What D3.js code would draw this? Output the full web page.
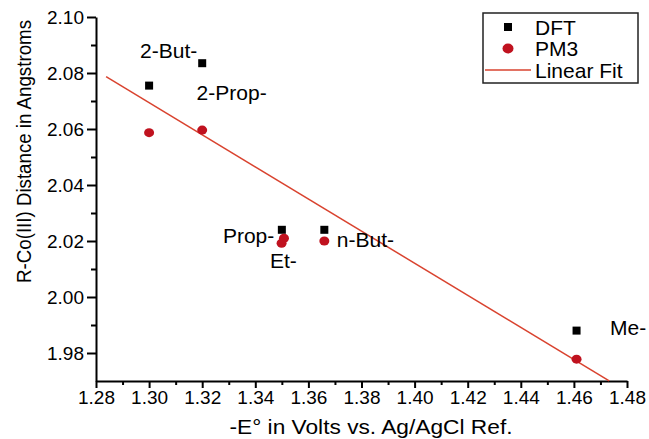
<!DOCTYPE html>
<html>
<head>
<meta charset="utf-8">
<script src="https://cdn.jsdelivr.net/npm/d3@7"></script>
<style>
  body { margin: 0; background: #fff; }
  svg { font-family: "Liberation Sans", Arial, sans-serif; }
</style>
</head>
<body>
<svg id="chart"></svg>
<script>
const width = 649;
const height = 439;

// DFT and PM3 results: -E (V) vs R-Co(III) distance (Å)
const dftX = [1.300, 1.320, 1.350, 1.366, 1.461];
const dftY = [2.0755, 2.0835, 2.024, 2.024, 1.988];
const pm3X = [1.300, 1.320, 1.3508, 1.3499, 1.366, 1.461];
const pm3Y = [2.0587, 2.0596, 2.021, 2.0192, 2.020, 1.9778];

// linear fit y = a + b*x
const fitIntercept = 2.8151;
const fitSlope = -0.5736;
const fitRange = [1.2838, 1.4733];

const pointLabels = ['2-But-', '2-Prop-', 'Prop-', 'Et-', 'n-But-', 'Me-'];
const labelX = [1.2966, 1.3179, 1.3278, 1.3455, 1.3707, 1.4736];
const labelY = [2.0854, 2.0705, 2.0193, 2.0104, 2.0180, 1.9865];

const xTicks = [1.28, 1.30, 1.32, 1.34, 1.36, 1.38, 1.40, 1.42, 1.44, 1.46, 1.48];
const yTicks = [1.98, 2.00, 2.02, 2.04, 2.06, 2.08, 2.10];
const legendNames = ['DFT', 'PM3', 'Linear Fit'];

const margin = { left: 96, right: 22, top: 17, bottom: 58 };

const svg = d3.select('#chart')
  .attr('width', width)
  .attr('height', height);

const x = d3.scaleLinear()
  .domain([1.28, 1.48])
  .range([margin.left, width - margin.right]);

const y = d3.scaleLinear()
  .domain([1.97, 2.10])
  .range([height - margin.bottom, margin.top]);

// minor ticks
const xMinor = d3.range(1.29, 1.48, 0.02);
const yMinor = d3.range(1.99, 2.10, 0.02);

svg.append('g')
  .attr('transform', `translate(0,${y(1.97)})`)
  .call(d3.axisBottom(x).tickValues(xMinor).tickSize(4).tickFormat(''))
  .call(g => g.select('.domain').remove())
  .selectAll('line').attr('stroke-width', 2);

svg.append('g')
  .attr('transform', `translate(${x(1.28)},0)`)
  .call(d3.axisLeft(y).tickValues(yMinor).tickSize(5).tickFormat(''))
  .call(g => g.select('.domain').remove())
  .selectAll('line').attr('stroke-width', 2);

const xAxis = svg.append('g')
  .attr('transform', `translate(0,${y(1.97)})`)
  .call(d3.axisBottom(x).tickValues(xTicks).tickSize(7).tickPadding(3).tickFormat(d3.format('.2f')).tickSizeOuter(0));

const yAxis = svg.append('g')
  .attr('transform', `translate(${x(1.28)},0)`)
  .call(d3.axisLeft(y).tickValues(yTicks).tickSize(9).tickPadding(3).tickFormat(d3.format('.2f')).tickSizeOuter(0));

[xAxis, yAxis].forEach(g => {
  g.select('.domain').attr('stroke-width', 2);
  g.selectAll('line').attr('stroke-width', 2);
  g.selectAll('text')
    .attr('font-size', 19)
    .attr('font-family', '"Liberation Sans", Arial, sans-serif')
    .attr('fill', '#000');
});

// axis titles
svg.append('text')
  .attr('x', 371)
  .attr('y', 434)
  .attr('text-anchor', 'middle')
  .attr('font-size', 21)
  .attr('textLength', 283)
  .attr('lengthAdjust', 'spacingAndGlyphs')
  .attr('fill', '#000')
  .text('-E° in Volts vs. Ag/AgCl Ref.');

svg.append('text')
  .attr('transform', 'translate(31,151.5) rotate(-90)')
  .attr('text-anchor', 'middle')
  .attr('font-size', 20)
  .attr('textLength', 263)
  .attr('lengthAdjust', 'spacingAndGlyphs')
  .attr('fill', '#000')
  .text('R-Co(III) Distance in Angstroms');

// linear fit
svg.append('line')
  .attr('x1', x(fitRange[0]))
  .attr('y1', y(fitIntercept + fitSlope * fitRange[0]))
  .attr('x2', x(fitRange[1]))
  .attr('y2', y(fitIntercept + fitSlope * fitRange[1]))
  .attr('stroke', '#d9432f')
  .attr('stroke-width', 1.5);

// DFT squares
svg.selectAll('.dft')
  .data(dftX)
  .enter()
  .append('rect')
  .attr('class', 'dft')
  .attr('x', d => x(d) - 4)
  .attr('y', (d, i) => y(dftY[i]) - 4)
  .attr('width', 8)
  .attr('height', 8)
  .attr('fill', '#000');

// PM3 circles
svg.selectAll('.pm3')
  .data(pm3X)
  .enter()
  .append('ellipse')
  .attr('class', 'pm3')
  .attr('cx', d => x(d))
  .attr('cy', (d, i) => y(pm3Y[i]))
  .attr('rx', 5)
  .attr('ry', 4.5)
  .attr('fill', '#c0121f');

// point labels
svg.selectAll('.plabel')
  .data(pointLabels)
  .enter()
  .append('text')
  .attr('class', 'plabel')
  .attr('x', (d, i) => x(labelX[i]))
  .attr('y', (d, i) => y(labelY[i]))
  .attr('font-size', 21)
  .attr('fill', '#000')
  .text(d => d);

// legend
const legend = svg.append('g').attr('transform', 'translate(483,13)');

legend.append('rect')
  .attr('width', 155)
  .attr('height', 70)
  .attr('fill', '#fff')
  .attr('stroke', '#222')
  .attr('stroke-width', 1.5);

const item = legend.selectAll('.item')
  .data(legendNames)
  .enter()
  .append('g')
  .attr('class', 'item')
  .attr('transform', (d, i) => `translate(0,${14 + i * 21.5})`);

item.append('text')
  .attr('x', 52)
  .attr('y', 7.5)
  .attr('font-size', 21)
  .attr('fill', '#000')
  .text(d => d);

item.filter((d, i) => i === 0).append('rect')
  .attr('x', 21).attr('y', -4).attr('width', 8).attr('height', 8).attr('fill', '#000');

item.filter((d, i) => i === 1).append('ellipse')
  .attr('cx', 25).attr('cy', 0).attr('rx', 5.5).attr('ry', 5).attr('fill', '#c0121f');

item.filter((d, i) => i === 2).append('line')
  .attr('x1', 2).attr('x2', 48).attr('y1', 0).attr('y2', 0)
  .attr('stroke', '#d9432f').attr('stroke-width', 1.5);
</script>
</body>
</html>
